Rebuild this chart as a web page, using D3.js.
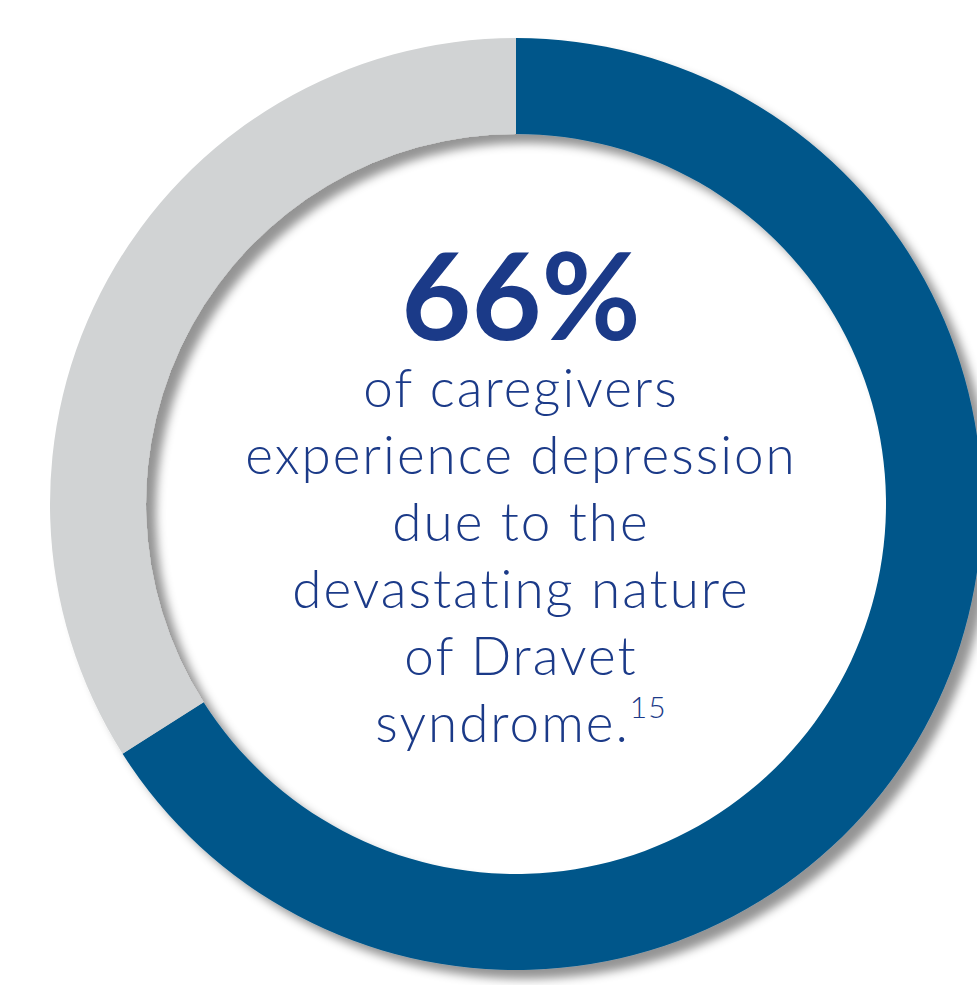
<!DOCTYPE html>
<html>
<head>
<meta charset="utf-8">
<script src="https://cdn.jsdelivr.net/npm/d3@7"></script>
<style>
  html, body { margin: 0; padding: 0; background: #ffffff; }
  svg { display: block; }
</style>
</head>
<body>
<div id="chart"></div>
<script>
// Share of caregivers reporting depression
const categories = ["Experience depression", "Other caregivers"];
const values = [66, 34];
const colors = ["#00578a", "#d1d3d4"];
const headline = "66%";
const bodyLines = [
  "of caregivers",
  "experience depression",
  "due to the",
  "devastating nature",
  "of Dravet",
  "syndrome."
];
const footnote = "15";

const width = 977, height = 985;
const cx = 516, cy = 504;
const outerR = 466, innerR = 370;

const svg = d3.select("#chart").append("svg")
  .attr("width", width)
  .attr("height", height);

const defs = svg.append("defs");
const shadow = defs.append("filter")
  .attr("id", "ring-shadow")
  .attr("x", "-10%").attr("y", "-10%")
  .attr("width", "125%").attr("height", "125%");
shadow.append("feDropShadow")
  .attr("dx", 10).attr("dy", 9)
  .attr("stdDeviation", 5)
  .attr("flood-color", "#000")
  .attr("flood-opacity", 0.42);

const pie = d3.pie().sort(null).value(d => d.value)
  .startAngle(0).endAngle(2 * Math.PI);
const arc = d3.arc().innerRadius(innerR).outerRadius(outerR);

const data = categories.map((c, i) => ({ name: c, value: values[i], color: colors[i] }));

const ring = svg.append("g")
  .attr("transform", `translate(${cx},${cy})`)
  .attr("filter", "url(#ring-shadow)");

ring.selectAll("path")
  .data(pie(data))
  .join("path")
  .attr("d", arc)
  .attr("fill", d => d.data.color);

// Centre label
const textX = 521;
const ink = "#1b3a88";

svg.append("text")
  .attr("x", textX).attr("y", 340)
  .attr("text-anchor", "middle")
  .attr("font-family", "Lato, 'Open Sans', sans-serif")
  .attr("font-weight", 700)
  .attr("font-size", 121)
  .attr("fill", ink)
  .text(headline);

const body = svg.append("g")
  .attr("font-family", "Lato, 'Open Sans', sans-serif")
  .attr("font-weight", 300)
  .attr("font-size", 53)
  .attr("letter-spacing", 2)
  .attr("fill", ink)
  .attr("text-anchor", "middle");

bodyLines.forEach((line, i) => {
  const t = body.append("text")
    .attr("x", textX)
    .attr("y", 407 + i * 67)
    .text(line);
  if (i === bodyLines.length - 1) {
    t.append("tspan")
      .attr("font-size", 30)
      .attr("letter-spacing", 1)
      .attr("dx", 0)
      .attr("dy", -24)
      .text(footnote);
  }
});
</script>
</body>
</html>
